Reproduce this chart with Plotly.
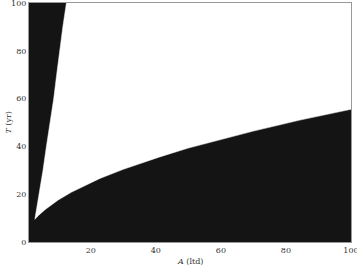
import plotly.graph_objects as go

# Upper (steep) boundary of the white region
upper_A = [2.8, 3.5, 4.3, 5.3, 6.35, 7.5, 8.6, 9.5, 10.4, 11.4, 12.5]
upper_T = [9.5, 15.0, 20.5, 30.0, 40.0, 50.0, 60.0, 70.0, 80.0, 90.0, 100.0]

# Lower (sqrt-like) boundary of the white region
lower_A = [2.8, 4, 6, 8, 10, 14, 18, 22.8, 30, 41.2, 50, 59.7, 70, 84.3, 100]
lower_T = [9.5, 11.2, 13.6, 15.7, 17.6, 20.8, 23.6, 26.6, 30.4, 35.6, 39.3, 42.8, 46.4, 51.0, 55.5]

x_ticks = [20, 40, 60, 80, 100]
y_ticks = [0, 20, 40, 60, 80, 100]

# polygon of the white region: up the steep curve, across the top, down the lower curve
poly_A = upper_A + [100] + lower_A[::-1]
poly_T = upper_T + [100] + lower_T[::-1]

fig = go.Figure()
fig.add_trace(go.Scatter(
    x=poly_A, y=poly_T, mode="lines", fill="toself",
    fillcolor="white", line=dict(color="white", width=0.5),
    hoverinfo="skip", showlegend=False,
))

font = dict(family="DejaVu Serif, Liberation Serif, serif", size=8, color="#333333")
fig.update_layout(
    width=357, height=266,
    margin=dict(l=29, r=6, t=3, b=24, autoexpand=False),
    paper_bgcolor="white",
    plot_bgcolor="#141414",
    font=font,
    showlegend=False,
    annotations=[
        dict(text="<i>A</i> (ltd)", x=0.5, y=-0.08, xref="paper", yref="paper",
             xanchor="center", yanchor="middle", showarrow=False, font=font),
        dict(text="<i>T</i> (yr)", x=-0.065, y=0.5, xref="paper", yref="paper",
             xanchor="center", yanchor="middle", showarrow=False, textangle=-90, font=font),
    ],
)
fig.update_xaxes(
    range=[1, 100], tickvals=x_ticks, showgrid=False, zeroline=False,
    showline=True, mirror=True, linecolor="#999999", linewidth=1,
    ticks="", ticklen=0, tickfont=font, automargin=False,
    ticklabeloverflow="allow",
)
fig.update_yaxes(
    range=[0, 100], tickvals=y_ticks, showgrid=False, zeroline=False,
    showline=True, mirror=True, linecolor="#999999", linewidth=1,
    ticks="", ticklen=0, tickfont=font, automargin=False,
    ticklabeloverflow="allow",
)
fig.write_html("out.html", config={"displayModeBar": False},
               post_script="document.body.style.margin='0';")
